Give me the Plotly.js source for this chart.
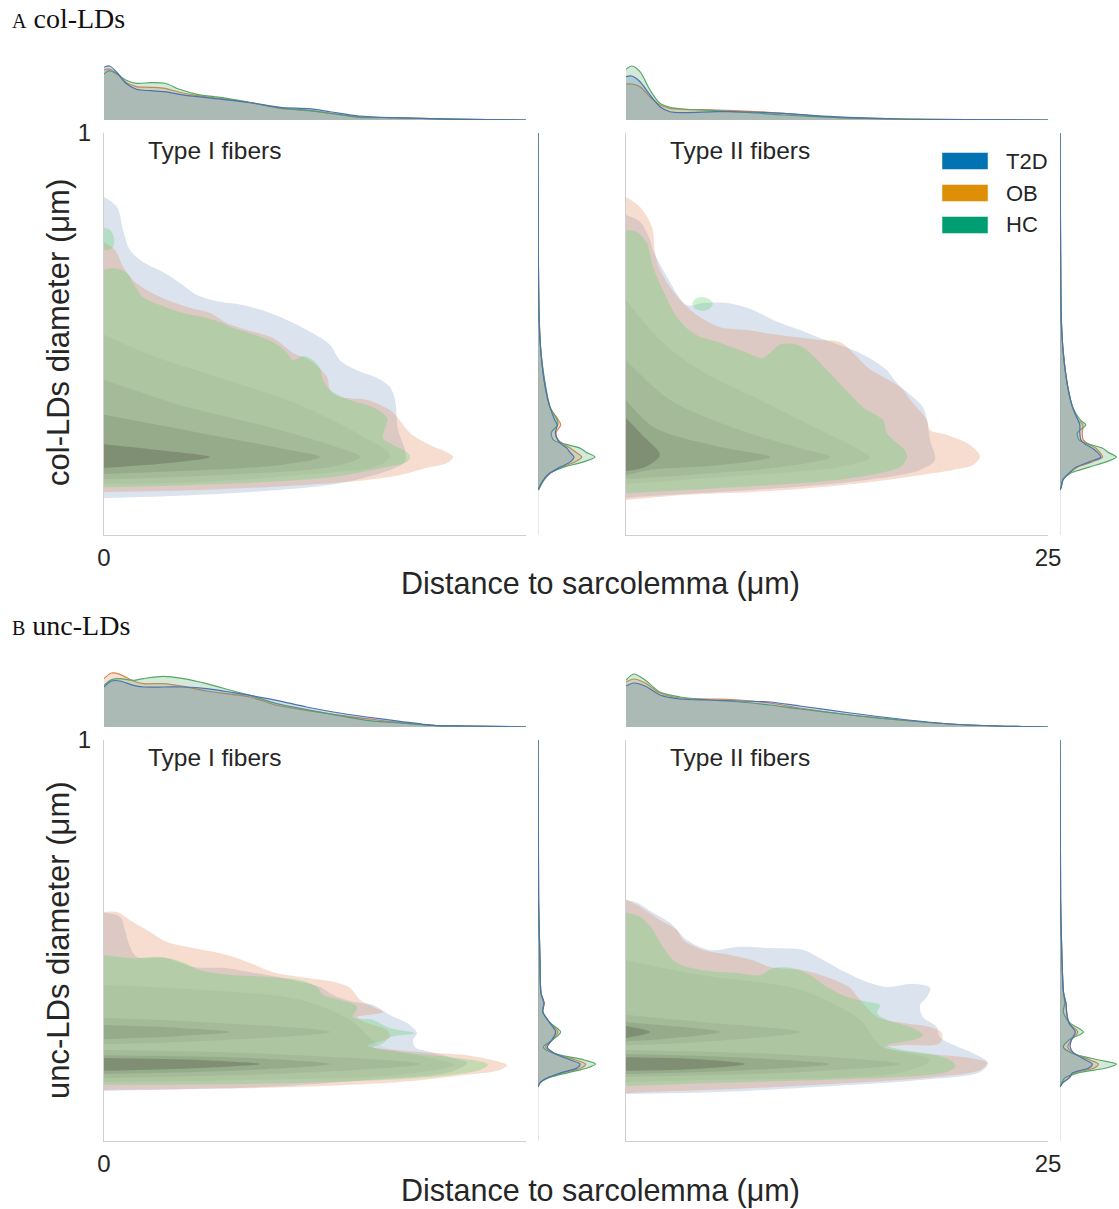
<!DOCTYPE html>
<html><head><meta charset="utf-8">
<script src="https://cdn.plot.ly/plotly-3.0.1.min.js"></script>
<style>html,body{margin:0;padding:0;background:#fff}#chart{width:1119px;height:1209px}</style>
</head><body><div id="chart"></div>
<script>
// ===== Groups =====
const groups = ['T2D', 'OB', 'HC'];

// ===== Row A (col-LDs), Type I fibers : outer density contours =====
const A1_T2D_x = [0,0.77,1.13,1.54,2.31,3.50,4.50,5.51,6.87,8.23,9.66,10.84,12.38,13.39,13.98,14.99,16.17,16.94,17.24,17.42,17.83,17.83,16.94,13.98,8.65,2.73,0];
const A1_T2D_y = [0.841,0.816,0.759,0.709,0.679,0.654,0.627,0.597,0.580,0.572,0.555,0.535,0.502,0.473,0.435,0.410,0.391,0.368,0.336,0.261,0.211,0.182,0.162,0.129,0.107,0.095,0.092];
const A1_OB_x = [0,0.65,1.13,1.72,2.55,3.73,4.92,6.28,7.29,8.47,10.01,11.20,12.20,13.21,13.39,13.98,15.58,16.94,17.36,18.13,19.31,20.32,20.68,20.32,19.13,17.54,15.58,11.61,5.69,0];
const A1_OB_y = [0.729,0.709,0.667,0.634,0.609,0.585,0.567,0.552,0.527,0.510,0.490,0.453,0.435,0.393,0.361,0.343,0.336,0.311,0.294,0.254,0.224,0.206,0.194,0.179,0.167,0.149,0.137,0.124,0.112,0.107];
const A1_HC_x = [0,0.53,1.36,1.72,2.31,3.32,4.68,6.10,7.05,7.64,8.65,10.01,10.84,11.20,11.79,12.38,12.80,12.97,13.39,14.57,15.94,16.77,16.53,17.12,17.95,18.13,17.95,16.53,13.57,9.66,4.68,0];
const A1_HC_y = [0.659,0.664,0.652,0.627,0.592,0.572,0.552,0.540,0.527,0.515,0.502,0.480,0.453,0.435,0.445,0.435,0.415,0.386,0.361,0.336,0.318,0.291,0.241,0.224,0.206,0.194,0.182,0.167,0.144,0.132,0.124,0.119];
const A1_HCblob_x = [0,0.36,0.59,0.53,0.24,0];
const A1_HCblob_y = [0.764,0.759,0.739,0.716,0.709,0.709];
// inner density levels
const A1_L1_x = [0,2.73,6.87,11.61,15.17,16.94,16.35,11.61,5.69,0];
const A1_L1_y = [0.498,0.448,0.391,0.323,0.249,0.199,0.174,0.149,0.132,0.127];
const A1_L2_x = [0,4.50,9.24,13.39,15.17,13.39,5.69,0];
const A1_L2_y = [0.386,0.323,0.274,0.224,0.194,0.169,0.147,0.139];
const A1_L3_x = [0,5.69,10.43,12.80,10.43,4.50,0];
const A1_L3_y = [0.299,0.254,0.216,0.194,0.174,0.159,0.152];
const A1_L4_x = [0,3.32,6.28,3.32,0];
const A1_L4_y = [0.226,0.211,0.194,0.177,0.167];

// ===== Row A, Type II fibers =====
const A2_T2D_x = [0,0.83,1.42,1.60,2.43,3.61,4.56,5.98,7.52,8.71,10.31,11.49,13.45,14.63,15.46,16.05,17.00,17.59,17.83,18.01,18.31,17.42,13.27,7.35,1.42,0];
const A2_T2D_y = [0.796,0.779,0.734,0.709,0.642,0.572,0.577,0.577,0.560,0.535,0.510,0.490,0.460,0.435,0.410,0.378,0.343,0.318,0.286,0.236,0.187,0.162,0.132,0.112,0.097,0.092];
const A2_OB_x = [0,0.83,1.54,1.72,2.01,2.61,3.38,4.38,5.57,7.17,8.35,9.89,11.49,12.68,13.45,14.28,15.23,16.23,17.00,17.83,18.01,19.02,20.20,20.85,20.97,20.56,19.37,17.42,15.46,11.49,7.52,3.61,0];
const A2_OB_y = [0.841,0.816,0.766,0.701,0.659,0.617,0.577,0.542,0.517,0.510,0.502,0.493,0.485,0.480,0.453,0.418,0.393,0.368,0.328,0.286,0.261,0.249,0.229,0.206,0.194,0.174,0.162,0.149,0.137,0.119,0.107,0.100,0.087];
const A2_HC_x = [0,0.65,1.24,1.60,2.19,3.02,3.97,5.57,7.17,8.12,8.53,9.12,10.13,10.90,11.91,12.86,14.04,15.23,15.46,16.05,16.53,16.65,16.23,15.05,12.50,8.53,3.61,0];
const A2_HC_y = [0.759,0.754,0.726,0.667,0.609,0.542,0.502,0.478,0.453,0.440,0.453,0.473,0.473,0.453,0.410,0.368,0.318,0.286,0.254,0.229,0.211,0.194,0.169,0.154,0.137,0.124,0.112,0.104];
const A2_HCblob_x = [3.91,4.09,4.50,4.92,5.15,4.92,4.50,4.09];
const A2_HCblob_y = [0.575,0.587,0.592,0.587,0.575,0.562,0.557,0.562];
const A2_L1_x = [0,2.01,4.38,7.94,11.49,13.86,14.45,12.68,7.35,0];
const A2_L1_y = [0.585,0.485,0.410,0.336,0.261,0.211,0.192,0.169,0.149,0.127];
const A2_L2_x = [0,2.61,6.75,10.31,12.09,9.12,4.38,0];
const A2_L2_y = [0.435,0.336,0.261,0.216,0.194,0.169,0.152,0.139];
const A2_L3_x = [0,1.72,5.57,8.53,5.57,1.42,0];
const A2_L3_y = [0.336,0.266,0.219,0.194,0.174,0.162,0.149];
const A2_L4_x = [0,0.95,2.01,1.13,0];
const A2_L4_y = [0.291,0.249,0.199,0.169,0.159];

// ===== Row B (unc-LDs), Type I fibers =====
const B1_T2D_x = [0,0.95,1.24,1.54,1.96,3.73,5.27,7.29,8.65,9.66,11.20,12.80,13.57,14.75,15.94,16.94,17.95,18.54,18.31,18.42,18.90,20.50,21.50,20.50,15.58,9.66,0];
const B1_T2D_y = [0.569,0.559,0.526,0.484,0.459,0.456,0.434,0.431,0.421,0.414,0.401,0.384,0.364,0.347,0.339,0.314,0.294,0.269,0.252,0.234,0.227,0.209,0.195,0.172,0.152,0.135,0.125];
const B1_OB_x = [0,0.77,1.72,2.73,3.73,5.27,7.29,8.65,10.01,11.61,13.57,14.57,15.17,15.94,16.53,15.58,14.99,15.58,16.77,16.94,15.94,15.58,18.72,21.50,23.46,23.87,23.46,21.50,17.54,11.61,5.69,0];
const B1_OB_y = [0.571,0.571,0.546,0.521,0.496,0.481,0.464,0.444,0.421,0.409,0.397,0.382,0.352,0.334,0.322,0.314,0.309,0.294,0.277,0.259,0.244,0.237,0.222,0.214,0.197,0.190,0.177,0.165,0.147,0.135,0.130,0.127];
const B1_HC_x = [0,1.72,3.32,4.68,5.69,7.64,9.66,11.61,12.62,12.97,13.98,14.99,14.75,15.94,16.94,18.42,16.94,16.53,15.94,17.54,20.50,22.45,22.75,22.27,19.49,13.57,7.64,0];
const B1_HC_y = [0.464,0.456,0.459,0.446,0.426,0.414,0.409,0.401,0.384,0.364,0.352,0.334,0.309,0.302,0.282,0.269,0.259,0.244,0.234,0.222,0.209,0.197,0.190,0.177,0.160,0.147,0.142,0.140];
const B1_L1_x = [0,5.69,11.61,14.57,16.35,19.91,20.79,17.54,8.65,0];
const B1_L1_y = [0.389,0.377,0.352,0.302,0.239,0.202,0.190,0.165,0.152,0.147];
const B1_L2a_x = [0,5.69,13.39,5.69,0];
const B1_L2a_y = [0.307,0.297,0.272,0.249,0.242];
const B1_L2b_x = [0,8.65,18.72,11.61,0];
const B1_L2b_y = [0.227,0.219,0.192,0.170,0.157];
const B1_L3a_x = [0,4.50,7.46,4.50,0];
const B1_L3a_y = [0.289,0.282,0.272,0.262,0.254];
const B1_L3b_x = [0,8.65,13.39,8.65,0];
const B1_L3b_y = [0.214,0.207,0.192,0.177,0.167];
const B1_L4_x = [0,5.69,9.24,5.69,0];
const B1_L4_y = [0.207,0.202,0.192,0.182,0.175];

// ===== Row B, Type II fibers =====
const B2_T2D_x = [0,0.65,1.60,2.61,3.61,4.98,6.58,8.53,10.49,11.49,13.09,14.45,15.46,17.00,18.01,17.83,17.42,17.59,18.42,18.60,20.56,21.45,20.97,17.42,11.49,5.57,0];
const B2_T2D_y = [0.601,0.594,0.569,0.544,0.501,0.476,0.484,0.481,0.476,0.456,0.419,0.394,0.384,0.392,0.382,0.359,0.339,0.309,0.284,0.259,0.219,0.195,0.172,0.152,0.135,0.122,0.117];
const B2_OB_x = [0,0.83,2.01,3.02,3.38,4.56,6.16,7.52,8.53,10.49,12.09,13.27,13.86,14.87,16.41,18.01,18.72,18.60,16.41,15.23,17.42,20.38,21.39,20.97,18.42,13.45,7.52,0];
const B2_OB_y = [0.603,0.584,0.551,0.526,0.501,0.476,0.464,0.451,0.434,0.426,0.406,0.382,0.352,0.309,0.294,0.284,0.269,0.244,0.239,0.234,0.219,0.207,0.195,0.177,0.160,0.145,0.132,0.120];
const B2_HC_x = [0,0.83,1.60,2.19,3.02,4.56,6.58,7.94,8.71,9.89,10.90,11.91,13.09,14.28,15.05,14.87,15.46,17.00,17.59,17.00,15.46,16.41,18.42,19.37,19.49,19.02,16.41,11.49,5.57,0];
const B2_HC_y = [0.569,0.559,0.526,0.484,0.444,0.426,0.419,0.414,0.431,0.431,0.414,0.384,0.359,0.347,0.339,0.319,0.302,0.282,0.264,0.252,0.239,0.227,0.214,0.197,0.185,0.172,0.160,0.152,0.145,0.137];
const B2_L1_x = [0,4.38,10.31,13.86,15.05,18.01,16.23,4.38,0];
const B2_L1_y = [0.451,0.414,0.377,0.302,0.239,0.202,0.170,0.152,0.147];
const B2_L2a_x = [0,4.38,10.31,4.38,0];
const B2_L2a_y = [0.314,0.297,0.272,0.247,0.239];
const B2_L2b_x = [0,10.31,16.23,10.31,0];
const B2_L2b_y = [0.227,0.214,0.192,0.172,0.160];
const B2_L3a_x = [0,2.01,5.57,2.01,0];
const B2_L3a_y = [0.297,0.289,0.272,0.254,0.249];
const B2_L3b_x = [0,7.35,12.09,7.35,0];
const B2_L3b_y = [0.217,0.207,0.192,0.177,0.167];
const B2_L4a_x = [0,1.42,0];
const B2_L4a_y = [0.287,0.272,0.257];
const B2_L4b_x = [0,4.38,7.05,4.38,0];
const B2_L4b_y = [0.209,0.204,0.192,0.180,0.175];

// ===== Top marginals: distance density =====
const topA1_x = [0,0.33,0.85,1.28,1.92,2.77,3.61,4.47,5.53,7.0,8.71,10.43,12.13,13.39,15.11,17.24,19.35,21.48,25.0];
const topA1_T2D = [8.78,9.0,7.67,6.17,5.12,4.88,4.72,4.28,3.88,3.45,2.88,2.12,1.88,1.38,0.67,0.38,0.22,0.12,0];
const topA1_OB  = [8.33,8.5,7.5,6.33,5.55,5.45,5.28,4.62,4.05,3.55,2.88,1.95,1.55,1.12,0.55,0.38,0.22,0.12,0];
const topA1_HC  = [7.67,8.22,7.5,6.67,6.12,6.22,6.12,5.12,4.28,3.72,2.88,2.0,1.62,1.12,0.45,0.38,0.22,0.12,0];
const topA2_x = [0,0.34,0.83,1.42,2.01,2.61,3.38,5.39,7.35,9.33,12.3,16.2,20.2,25];
const topA2_T2D = [7.22,7.33,6.38,4.17,2.22,1.38,1.22,1.38,1.33,1.12,0.55,0.17,0.05,0];
const topA2_OB  = [6.0,6.0,5.55,3.88,2.5,1.95,1.78,1.67,1.45,1.12,0.45,0.17,0.05,0];
const topA2_HC  = [8.45,9.0,8.05,5.0,2.78,2.12,1.83,1.55,1.22,0.83,0.45,0.17,0.05,0];
const topB1_x = [0,0.45,0.95,1.74,2.33,3.51,4.7,6.08,7.66,8.65,10.23,12.0,13.58,15.56,17.54,19.5,21.5,25];
const topB1_T2D = [6.67,7.67,7.67,6.95,6.67,6.67,6.67,6.4,5.73,5.28,4.45,3.33,2.5,1.67,0.95,0.28,0.17,0];
const topB1_OB  = [8.07,9.0,8.78,7.67,7.23,7.23,6.78,6.0,5.4,5.0,3.62,2.78,2.12,1.4,0.73,0.28,0.17,0];
const topB1_HC  = [6.95,7.9,8.07,7.78,8.07,8.45,8.07,7.23,6.0,5.28,3.9,2.9,2.07,1.12,0.67,0.28,0.17,0];
const topB2_x = [0,0.47,1.13,2.01,3.2,4.98,6.75,8.53,10.3,13.3,16.2,19.2,22.1,25];
const topB2_T2D = [6.83,7.33,6.83,5.33,4.67,4.5,4.33,4.17,3.5,2.33,1.33,0.5,0.17,0];
const topB2_OB  = [7.5,8.0,7.33,5.67,4.83,4.67,4.5,4.0,3.17,2.0,1.17,0.5,0.17,0];
const topB2_HC  = [7.83,8.83,7.83,5.83,5.0,4.5,4.17,3.67,3.0,2.0,1.17,0.5,0.17,0];

// ===== Right marginals: diameter density =====
const margA_y = [0.112,0.119,0.137,0.154,0.169,0.182,0.194,0.206,0.216,0.226,0.236,0.254,0.274,0.286,0.318,0.368,0.453,0.535,0.709,1.0];
const rgtA1_T2D = [0,0.2,0.9,2.0,3.7,5.4,6.0,5.3,4.8,3.9,3.3,2.9,3.2,2.8,2.0,1.2,0.5,0.2,0.05,0];
const rgtA1_OB  = [0,0.3,1.0,2.1,4.0,6.2,7.3,6.3,5.4,4.3,3.4,3.0,3.8,3.4,2.0,1.2,0.5,0.2,0.05,0];
const rgtA1_HC  = [0.1,0.3,1.0,2.0,4.3,7.6,9.5,8.0,7.0,4.5,2.6,2.2,3.3,3.2,2.0,1.3,0.5,0.2,0.05,0];
const rgtA2_T2D = [0,0.2,0.45,1.5,2.7,4.9,6.8,6.2,5.4,4.2,3.5,3.3,3.3,3.0,2.1,1.3,0.55,0.22,0.1,0];
const rgtA2_OB  = [0,0.2,0.5,1.6,3.0,5.4,7.1,6.6,6.0,4.8,3.9,3.7,3.8,3.0,2.1,1.3,0.55,0.22,0.1,0];
const rgtA2_HC  = [0,0.2,0.5,1.8,4.9,7.7,9.4,8.0,7.1,4.8,3.2,2.9,4.3,3.4,2.1,1.3,0.55,0.22,0.1,0];
const margB_y = [0.135,0.145,0.157,0.170,0.182,0.192,0.202,0.219,0.234,0.252,0.272,0.294,0.322,0.344,0.369,0.451,0.601,1.0];
const rgtB1_T2D = [0,0.33,1.5,3.8,6.5,7.0,5.4,2.7,1.55,2.33,2.95,2.0,0.8,1.0,0.5,0.33,0.1,0];
const rgtB1_OB  = [0,0.33,1.6,4.2,7.2,7.95,6.3,2.7,1.28,2.33,3.33,2.0,0.8,1.0,0.5,0.33,0.1,0];
const rgtB1_HC  = [0,0.33,1.7,4.9,8.2,9.6,7.7,2.5,0.88,2.4,3.78,2.1,0.8,1.0,0.5,0.33,0.1,0];
const rgtB2_T2D = [0,0.45,1.5,2.1,4.8,5.4,4.3,2.3,1.7,1.9,2.55,1.5,1.1,1.0,0.6,0.33,0.1,0];
const rgtB2_OB  = [0,0.45,1.5,2.4,5.7,6.4,5.0,2.3,1.3,1.9,2.95,1.5,1.1,1.0,0.6,0.33,0.1,0];
const rgtB2_HC  = [0,0.3,0.8,3.0,7.7,9.4,6.5,2.0,0.55,1.5,3.9,1.7,0.55,0.8,0.6,0.33,0.1,0];

// ===== Text =====
const xTitle = 'Distance to sarcolemma (μm)';
const yTitleA = 'col-LDs diameter (μm)';
const yTitleB = 'unc-LDs diameter (μm)';
const panelTitles = ['Type I fibers', 'Type II fibers'];

// ===== Styling =====
const W = 1119, H = 1209;
const FONT = 'Liberation Sans, Arial, Helvetica, sans-serif';
const lineCol = {T2D:'#4c72b0', OB:'#dd8452', HC:'#55a868'};
const margFill = {T2D:'rgba(76,114,176,0.25)', OB:'rgba(221,132,82,0.25)', HC:'rgba(85,168,104,0.25)'};
const kdeFill = {T2D:'rgba(76,114,176,0.20)', OB:'rgba(221,132,82,0.28)', HC:'rgba(105,210,118,0.34)'};
const legCol = {T2D:'#0173b2', OB:'#de8f05', HC:'#029e73'};
const lvlFill = ['rgba(50,70,45,0.05)','rgba(50,70,45,0.08)','rgba(50,65,45,0.12)','rgba(60,60,50,0.25)'];
const px = v => v / W, py = v => 1 - v / H;

const traces = [];
function poly(x, y, xa, ya, color){
  traces.push({type:'scatter', mode:'lines', x:x, y:y, xaxis:xa, yaxis:ya, fill:'toself', fillcolor:color,
    line:{width:0, shape:'spline', smoothing:0.9}, hoverinfo:'skip', showlegend:false});
}
function topMarg(x, y, g, xa, ya){
  traces.push({type:'scatter', mode:'lines', x:x, y:y, xaxis:xa, yaxis:ya, fill:'tozeroy', fillcolor:margFill[g],
    line:{width:1.2, color:lineCol[g], shape:'spline', smoothing:0.8}, hoverinfo:'skip', showlegend:false});
}
function rgtMarg(x, y, g, xa, ya){
  traces.push({type:'scatter', mode:'lines', x:x, y:y, xaxis:xa, yaxis:ya, fill:'tozerox', fillcolor:margFill[g],
    line:{width:1.2, color:lineCol[g], shape:'spline', smoothing:0.8}, hoverinfo:'skip', showlegend:false});
}

// Panel A1 (x, y)
poly(A1_T2D_x, A1_T2D_y, 'x', 'y', kdeFill.T2D);
poly(A1_OB_x, A1_OB_y, 'x', 'y', kdeFill.OB);
poly(A1_HC_x, A1_HC_y, 'x', 'y', kdeFill.HC);
poly(A1_HCblob_x, A1_HCblob_y, 'x', 'y', kdeFill.HC);
poly(A1_L1_x, A1_L1_y, 'x', 'y', lvlFill[0]);
poly(A1_L2_x, A1_L2_y, 'x', 'y', lvlFill[1]);
poly(A1_L3_x, A1_L3_y, 'x', 'y', lvlFill[2]);
poly(A1_L4_x, A1_L4_y, 'x', 'y', lvlFill[3]);
// Panel A2 (x2, y2)
poly(A2_T2D_x, A2_T2D_y, 'x2', 'y2', kdeFill.T2D);
poly(A2_OB_x, A2_OB_y, 'x2', 'y2', kdeFill.OB);
poly(A2_HC_x, A2_HC_y, 'x2', 'y2', kdeFill.HC);
poly(A2_HCblob_x, A2_HCblob_y, 'x2', 'y2', kdeFill.HC);
poly(A2_L1_x, A2_L1_y, 'x2', 'y2', lvlFill[0]);
poly(A2_L2_x, A2_L2_y, 'x2', 'y2', lvlFill[1]);
poly(A2_L3_x, A2_L3_y, 'x2', 'y2', lvlFill[2]);
poly(A2_L4_x, A2_L4_y, 'x2', 'y2', lvlFill[3]);
// Panel B1 (x7, y7)
poly(B1_T2D_x, B1_T2D_y, 'x7', 'y7', kdeFill.T2D);
poly(B1_OB_x, B1_OB_y, 'x7', 'y7', kdeFill.OB);
poly(B1_HC_x, B1_HC_y, 'x7', 'y7', kdeFill.HC);
poly(B1_L1_x, B1_L1_y, 'x7', 'y7', lvlFill[0]);
poly(B1_L2a_x, B1_L2a_y, 'x7', 'y7', lvlFill[1]);
poly(B1_L2b_x, B1_L2b_y, 'x7', 'y7', lvlFill[1]);
poly(B1_L3a_x, B1_L3a_y, 'x7', 'y7', lvlFill[2]);
poly(B1_L3b_x, B1_L3b_y, 'x7', 'y7', lvlFill[2]);
poly(B1_L4_x, B1_L4_y, 'x7', 'y7', lvlFill[3]);
// Panel B2 (x8, y8)
poly(B2_T2D_x, B2_T2D_y, 'x8', 'y8', kdeFill.T2D);
poly(B2_OB_x, B2_OB_y, 'x8', 'y8', kdeFill.OB);
poly(B2_HC_x, B2_HC_y, 'x8', 'y8', kdeFill.HC);
poly(B2_L1_x, B2_L1_y, 'x8', 'y8', lvlFill[0]);
poly(B2_L2a_x, B2_L2a_y, 'x8', 'y8', lvlFill[1]);
poly(B2_L2b_x, B2_L2b_y, 'x8', 'y8', lvlFill[1]);
poly(B2_L3a_x, B2_L3a_y, 'x8', 'y8', lvlFill[2]);
poly(B2_L3b_x, B2_L3b_y, 'x8', 'y8', lvlFill[2]);
poly(B2_L4a_x, B2_L4a_y, 'x8', 'y8', lvlFill[3]);
poly(B2_L4b_x, B2_L4b_y, 'x8', 'y8', lvlFill[3]);

// Top marginals
topMarg(topA1_x, topA1_OB, 'OB', 'x', 'y3');
topMarg(topA1_x, topA1_HC, 'HC', 'x', 'y3');
topMarg(topA1_x, topA1_T2D, 'T2D', 'x', 'y3');
topMarg(topA2_x, topA2_OB, 'OB', 'x2', 'y4');
topMarg(topA2_x, topA2_HC, 'HC', 'x2', 'y4');
topMarg(topA2_x, topA2_T2D, 'T2D', 'x2', 'y4');
topMarg(topB1_x, topB1_OB, 'OB', 'x7', 'y9');
topMarg(topB1_x, topB1_HC, 'HC', 'x7', 'y9');
topMarg(topB1_x, topB1_T2D, 'T2D', 'x7', 'y9');
topMarg(topB2_x, topB2_OB, 'OB', 'x8', 'y10');
topMarg(topB2_x, topB2_HC, 'HC', 'x8', 'y10');
topMarg(topB2_x, topB2_T2D, 'T2D', 'x8', 'y10');
// Right marginals
rgtMarg(rgtA1_OB, margA_y, 'OB', 'x5', 'y');
rgtMarg(rgtA1_HC, margA_y, 'HC', 'x5', 'y');
rgtMarg(rgtA1_T2D, margA_y, 'T2D', 'x5', 'y');
rgtMarg(rgtA2_OB, margA_y, 'OB', 'x6', 'y2');
rgtMarg(rgtA2_HC, margA_y, 'HC', 'x6', 'y2');
rgtMarg(rgtA2_T2D, margA_y, 'T2D', 'x6', 'y2');
rgtMarg(rgtB1_OB, margB_y, 'OB', 'x11', 'y7');
rgtMarg(rgtB1_HC, margB_y, 'HC', 'x11', 'y7');
rgtMarg(rgtB1_T2D, margB_y, 'T2D', 'x11', 'y7');
rgtMarg(rgtB2_OB, margB_y, 'OB', 'x12', 'y8');
rgtMarg(rgtB2_HC, margB_y, 'HC', 'x12', 'y8');
rgtMarg(rgtB2_T2D, margB_y, 'T2D', 'x12', 'y8');

// ===== Axes =====
const spine = '#cfcfcf';
const tickFont = {family:FONT, size:24, color:'#262626'};
function mainX(dom, anchor, tv){
  return {domain:dom, range:[0,25], anchor:anchor, showgrid:false, zeroline:false, showline:true,
    linecolor:spine, linewidth:1, ticks:'', tickvals:tv, ticktext:tv.map(String), tickfont:tickFont,
    ticklabelstandoff:1, fixedrange:true};
}
function mainY(dom, anchor, tv){
  return {domain:dom, range:[0,1], anchor:anchor, showgrid:false, zeroline:false, showline:true,
    linecolor:spine, linewidth:1, ticks:'', tickvals:tv, ticktext:tv.map(String), tickfont:tickFont,
    showticklabels: tv.length>0, ticklabelstandoff:7, fixedrange:true};
}
function hidden(dom, anchor, rng){
  return {domain:dom, range:rng, anchor:anchor, visible:false, fixedrange:true};
}
const xL = [px(104), px(526)], xR = [px(626), px(1048)];
const mL = [px(538), px(598)], mR = [px(1060), 1];
const yA = [py(535), py(133)], yB = [py(1141), py(740)];
const tA = [py(120), py(60)], tB = [py(727), py(667)];

const layout = {
  width:W, height:H, margin:{l:0,r:0,t:0,b:0}, paper_bgcolor:'#fff', plot_bgcolor:'rgba(0,0,0,0)',
  showlegend:false, font:{family:FONT, color:'#262626'},
  xaxis: mainX(xL, 'y', [0]),
  yaxis: mainY(yA, 'x', [1]),
  xaxis2: mainX(xR, 'y2', [25]),
  yaxis2: mainY(yA, 'x2', []),
  yaxis3: hidden(tA, 'x', [0,10]),
  yaxis4: hidden(tA, 'x2', [0,10]),
  xaxis5: hidden(mL, 'y', [0,10]),
  xaxis6: hidden(mR, 'y2', [0,9.83]),
  xaxis7: mainX(xL, 'y7', [0]),
  yaxis7: mainY(yB, 'x7', [1]),
  xaxis8: mainX(xR, 'y8', [25]),
  yaxis8: mainY(yB, 'x8', []),
  yaxis9: hidden(tB, 'x7', [0,10]),
  yaxis10: hidden(tB, 'x8', [0,10]),
  xaxis11: hidden(mL, 'y7', [0,10]),
  xaxis12: hidden(mR, 'y8', [0,9.83]),
  shapes: [],
  annotations: []
};

// marginal spines
[['x5','y'],['x6','y2'],['x11','y7'],['x12','y8']].forEach(([xa,ya]) => {
  layout.shapes.push({type:'line', xref:xa, yref:ya+' domain', x0:0, x1:0, y0:0, y1:1, layer:'below',
    line:{color:spine, width:1}});
});

// legend
const legRows = [161, 193, 225];
groups.forEach((g, i) => {
  layout.shapes.push({type:'rect', xref:'paper', yref:'paper', x0:px(942), x1:px(988),
    y0:py(legRows[i]+8.5), y1:py(legRows[i]-8.5), fillcolor:legCol[g], line:{width:0.8, color:'rgba(255,255,255,0.6)'}});
  layout.annotations.push({xref:'paper', yref:'paper', x:px(1004), y:py(legRows[i]), xanchor:'left', yanchor:'middle',
    text:g, showarrow:false, font:{family:FONT, size:22, color:'#262626'}});
});

// section labels
const serif = 'Liberation Serif, Times New Roman, serif';
layout.annotations.push({xref:'paper', yref:'paper', x:px(10), y:py(18), xanchor:'left', yanchor:'middle', showarrow:false,
  text:'<span style="font-size:20px">A</span> col-LDs', font:{family:serif, size:28, color:'#111'}});
layout.annotations.push({xref:'paper', yref:'paper', x:px(10), y:py(625), xanchor:'left', yanchor:'middle', showarrow:false,
  text:'<span style="font-size:20px">B</span> unc-LDs', font:{family:serif, size:28, color:'#111'}});

// panel titles
[[146, 151, 0], [668, 151, 1], [146, 757, 0], [668, 757, 1]].forEach(([x, y, k]) => {
  layout.annotations.push({xref:'paper', yref:'paper', x:px(x), y:py(y), xanchor:'left', yanchor:'middle', showarrow:false,
    text:panelTitles[k], font:{family:FONT, size:24.5, color:'#262626'}});
});
// axis titles
[[583],[1190]].forEach(([y]) => {
  layout.annotations.push({xref:'paper', yref:'paper', x:px(600), y:py(y), xanchor:'center', yanchor:'middle', showarrow:false,
    text:xTitle, font:{family:FONT, size:30.5, color:'#262626'}});
});
layout.annotations.push({xref:'paper', yref:'paper', x:px(58), y:py(333), xanchor:'center', yanchor:'middle', showarrow:false,
  textangle:-90, text:yTitleA, font:{family:FONT, size:31, color:'#262626'}});
layout.annotations.push({xref:'paper', yref:'paper', x:px(58), y:py(940), xanchor:'center', yanchor:'middle', showarrow:false,
  textangle:-90, text:yTitleB, font:{family:FONT, size:31, color:'#262626'}});

Plotly.newPlot('chart', traces, layout, {displayModeBar:false, staticPlot:true});
</script></body></html>
